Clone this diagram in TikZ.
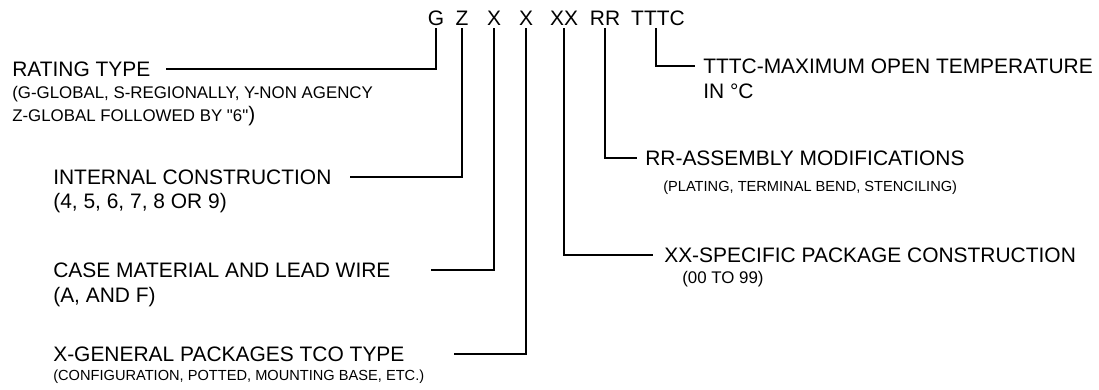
\documentclass[tikz,border=0pt]{standalone}
\usepackage{fontspec}
\setmainfont{Liberation Sans}[Ligatures=TeXOff]
\usepackage{tikz}
\usetikzlibrary{calc}

\newcommand{\lblbig}{\fontsize{14.9}{17}\selectfont}
\newcommand{\lblmid}{\fontsize{12.0}{14}\selectfont}
\newcommand{\lblsml}{\fontsize{10.4}{12}\selectfont}

\begin{document}
\begin{tikzpicture}[
  code/.style={font=\lblbig, anchor=base, inner sep=2pt},
  title/.style={font=\lblbig, anchor=base west, inner sep=0pt},
  note/.style={font=\lblmid, anchor=base west, inner sep=0pt},
  notesm/.style={font=\lblsml, anchor=base west, inner sep=0pt},
  wire/.style={line width=1.4pt}
]
\useasboundingbox (0,0) rectangle (27.475,-9.725);

\foreach \nm/\txt/\x in {g/G/10.9, z/Z/11.55, xa/X/12.35, xb/X/13.15,
  xx/XX/14.1, rr/RR/15.125, tttc/TTTC/16.45} {
  \node[code] (\nm) at (\x,-0.625) {\txt};
}

% left side
\node[title] (rating) at (0.3,-1.9) {RATING TYPE};
\node[note] (rating1) at (0.3,-2.45) {(G-GLOBAL, S-REGIONALLY, Y-NON AGENCY};
\node[note] (rating2) at (0.3,-3.025) {Z-GLOBAL FOLLOWED BY "6"{\lblbig)}};

\node[title] (inner) at (1.325,-4.6) {INTERNAL CONSTRUCTION};
\node[title] (inner1) at (1.325,-5.2) {(4, 5, 6, 7, 8 OR 9)};

\node[title] (casew) at (1.325,-6.925) {CASE MATERIAL AND LEAD WIRE};
\node[title] (casew1) at (1.325,-7.55) {(A, AND F)};

\node[title] (tco) at (1.325,-9.025) {X-GENERAL PACKAGES TCO TYPE};
\node[notesm] (tco1) at (1.325,-9.5) {(CONFIGURATION, POTTED, MOUNTING BASE, ETC.)};

% right side
\node[title] (temp) at (17.575,-1.825) {TTTC-MAXIMUM OPEN TEMPERATURE};
\node[title] (temp1) at (17.575,-2.45) {IN °C};

\node[title] (assy) at (16.125,-4.125) {RR-ASSEMBLY MODIFICATIONS};
\node[notesm] (assy1) at (16.575,-4.775) {(PLATING, TERMINAL BEND, STENCILING)};

\node[title] (pkg) at (16.6,-6.55) {XX-SPECIFIC PACKAGE CONSTRUCTION};
\node[note] (pkg1) at (17.05,-7.075) {(00 TO 99)};

\draw[wire] (g.south) |- ($(rating.east)+(0.375,0)$);
\draw[wire] (z.south) |- ($(inner.east)+(0.45,0)$);
\draw[wire] (xa.south) |- ($(casew.east)+(1.0,0)$);
\draw[wire] (xb.south) |- ($(tco.east)+(1.225,0)$);
\draw[wire] (xx.south) |- ($(pkg.west)+(-0.275,0)$);
\draw[wire] (rr.south) |- ($(assy.west)+(-0.2,0)$);
\draw[wire] ([xshift=-0.04cm]tttc.south) |- ($(temp.west)+(-0.2,0)$);

\end{tikzpicture}
\end{document}
